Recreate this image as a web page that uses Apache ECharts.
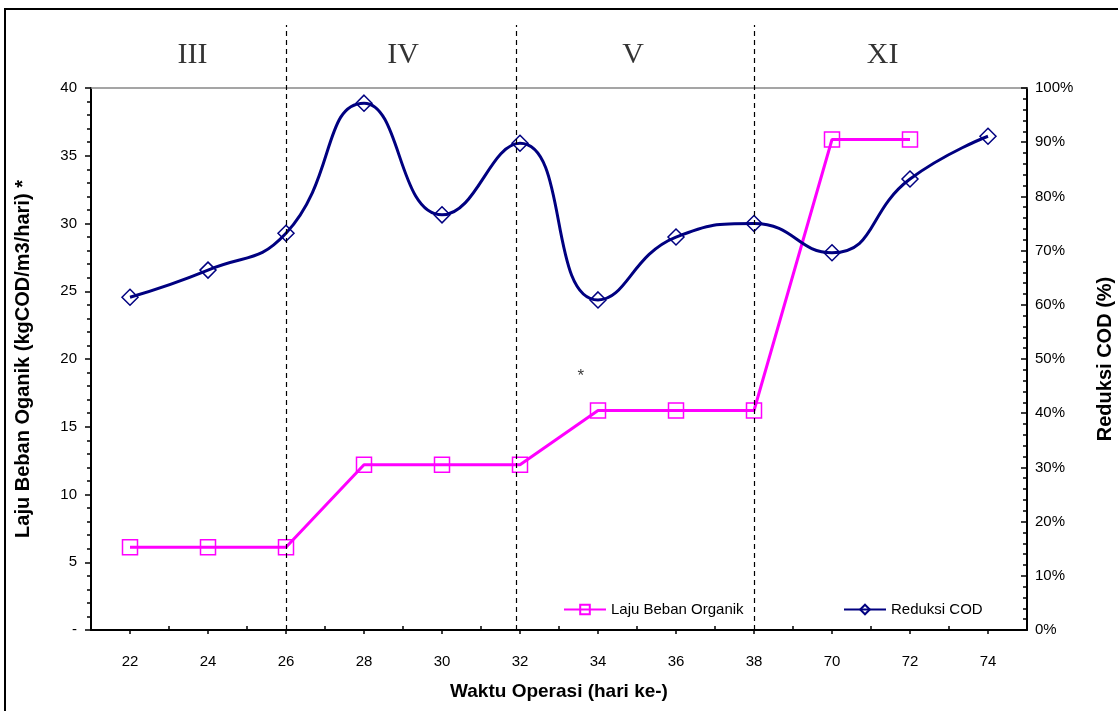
<!DOCTYPE html>
<html>
<head>
<meta charset="utf-8">
<title>Laju Beban Organik dan Reduksi COD</title>
<script src="https://cdn.jsdelivr.net/npm/echarts@6/dist/echarts.min.js"></script>
<style>
  html, body { margin: 0; padding: 0; background: #fff; overflow: hidden; }
  #chart { position: absolute; left: 0; top: 0; width: 1118px; height: 711px; }
  .frame { position: absolute; left: 4px; top: 8px; width: 1300px; height: 900px; border: 2px solid #000; pointer-events: none; }
</style>
</head>
<body>
<div id="chart"></div>
<div class="frame"></div>
<script>
  // hari operasi (sumbu x)
  var hari = ['22', '24', '26', '28', '30', '32', '34', '36', '38', '70', '72', '74'];
  // laju beban organik (kgCOD/m3/hari)
  var lajuBeban = [6.1, 6.1, 6.1, 12.2, 12.2, 12.2, 16.2, 16.2, 16.2, 36.2, 36.2, null];
  // reduksi COD (%)
  var reduksiCOD = [61.4, 66.4, 73.2, 97.2, 76.6, 89.8, 60.9, 72.5, 75.0, 69.6, 83.2, 91.1];

  // tahap / fase (batas dalam satuan indeks kategori)
  var fase = ['III', 'IV', 'V', 'XI'];
  var posFase = [1.3, 4.0, 6.95, 10.15];
  var batasFase = [2.5, 5.45, 8.5];
  var bintang = [6.28, 0.42];

  var font = 'Liberation Sans, Arial, sans-serif';
  var myChart = echarts.init(document.getElementById('chart'));

  myChart.setOption({
    animation: false,
    textStyle: { fontFamily: font, color: '#000' },
    legend: [
      {
        data: ['Laju Beban Organik'],
        left: 558, top: 597,
        itemWidth: 42, itemHeight: 12, itemGap: 5,
        textStyle: { fontFamily: font, fontSize: 15, color: '#000' }
      },
      {
        data: ['Reduksi COD'],
        left: 838, top: 597,
        itemWidth: 42, itemHeight: 12, itemGap: 5,
        textStyle: { fontFamily: font, fontSize: 15, color: '#000' }
      }
    ],
    grid: [
      { left: 91, right: 91, top: 88, bottom: 81, outerBoundsMode: 'none', containLabel: false },
      { left: 91, right: 91, top: 25, bottom: 81, outerBoundsMode: 'none', containLabel: false }
    ],
    xAxis: [
      {
        type: 'category', gridIndex: 0, data: hari, position: 'bottom',
        name: 'Waktu Operasi (hari ke-)', nameLocation: 'middle', nameGap: 52,
        nameTextStyle: { fontFamily: font, fontSize: 19, fontWeight: 'bold', color: '#000' },
        axisLine: { lineStyle: { color: '#000', width: 2 } },
        axisTick: { show: true, inside: true, length: 4, lineStyle: { color: '#000', width: 1.5 } },
        axisLabel: { fontSize: 15, color: '#000', margin: 24, fontFamily: font }
      },
      {
        type: 'category', gridIndex: 0, data: hari, position: 'bottom',
        axisLine: { show: false },
        axisTick: { show: true, alignWithLabel: true, length: 4, lineStyle: { color: '#000', width: 1.5 } },
        axisLabel: { show: false }
      },
      {
        type: 'category', gridIndex: 0, data: hari, position: 'top',
        axisLine: { lineStyle: { color: '#888', width: 1.5 } },
        axisTick: { show: false },
        axisLabel: { show: false }
      },
      {
        type: 'value', gridIndex: 1, min: 0, max: hari.length, show: false
      }
    ],
    yAxis: [
      {
        type: 'value', gridIndex: 0, min: 0, max: 40, interval: 5, position: 'left',
        name: 'Laju Beban Oganik (kgCOD/m3/hari) *', nameLocation: 'middle', nameGap: 58, nameRotate: 90,
        nameTextStyle: { fontFamily: font, fontSize: 20, fontWeight: 'bold', color: '#000' },
        axisLine: { show: true, lineStyle: { color: '#000', width: 2 } },
        axisTick: { show: true, length: 6, lineStyle: { color: '#000', width: 1.5 } },
        minorTick: { show: true, splitNumber: 5, length: 4, lineStyle: { color: '#000', width: 1.5 } },
        splitLine: { show: false },
        axisLabel: {
          fontSize: 15, color: '#000', margin: 14, fontFamily: font,
          formatter: function (v) { return v === 0 ? '-' : v; }
        }
      },
      {
        type: 'value', gridIndex: 0, min: 0, max: 100, interval: 10, position: 'right',
        name: 'Reduksi COD (%)', nameLocation: 'middle', nameGap: 68, nameRotate: 90,
        nameTextStyle: { fontFamily: font, fontSize: 20, fontWeight: 'bold', color: '#000' },
        axisLine: { show: true, lineStyle: { color: '#000', width: 2 } },
        axisTick: { show: true, inside: true, length: 6, lineStyle: { color: '#000', width: 1.5 } },
        minorTick: { show: true, splitNumber: 5, length: 4, lineStyle: { color: '#000', width: 1.5 } },
        splitLine: { show: false },
        axisLabel: { fontSize: 15, color: '#000', margin: 8, fontFamily: font, formatter: '{value}%' }
      },
      {
        type: 'value', gridIndex: 1, min: 0, max: 1, show: false
      }
    ],
    series: [
      {
        name: 'Laju Beban Organik',
        type: 'line',
        xAxisIndex: 0, yAxisIndex: 0,
        data: lajuBeban,
        symbol: 'rect', symbolSize: 15,
        lineStyle: { color: '#FF00FF', width: 3 },
        itemStyle: { color: 'rgba(255,255,255,0)', borderColor: '#FF00FF', borderWidth: 1.5 },
        z: 3
      },
      {
        name: 'Reduksi COD',
        type: 'line',
        xAxisIndex: 0, yAxisIndex: 1,
        data: reduksiCOD,
        smooth: 0.5,
        symbol: 'diamond', symbolSize: 16,
        lineStyle: { color: '#000080', width: 3 },
        itemStyle: { color: 'rgba(255,255,255,0)', borderColor: '#000080', borderWidth: 1.5 },
        z: 4
      },
      {
        type: 'scatter',
        xAxisIndex: 3, yAxisIndex: 2,
        symbolSize: 0,
        silent: true,
        data: fase.map(function (f, i) { return { value: [posFase[i], 0.95], name: f }; })
          .concat([{ value: bintang, name: '*', label: { fontFamily: font, fontSize: 17 } }]),
        label: {
          show: true, position: 'inside', formatter: '{b}',
          fontFamily: 'Liberation Serif, Times New Roman, serif', fontSize: 30, color: '#000'
        },
        markLine: {
          silent: true,
          symbol: ['none', 'none'],
          label: { show: false },
          lineStyle: { color: '#000', width: 1.2, type: [5, 4] },
          data: batasFase.map(function (b) { return { xAxis: b }; })
        }
      }
    ]
  });
</script>
</body>
</html>
